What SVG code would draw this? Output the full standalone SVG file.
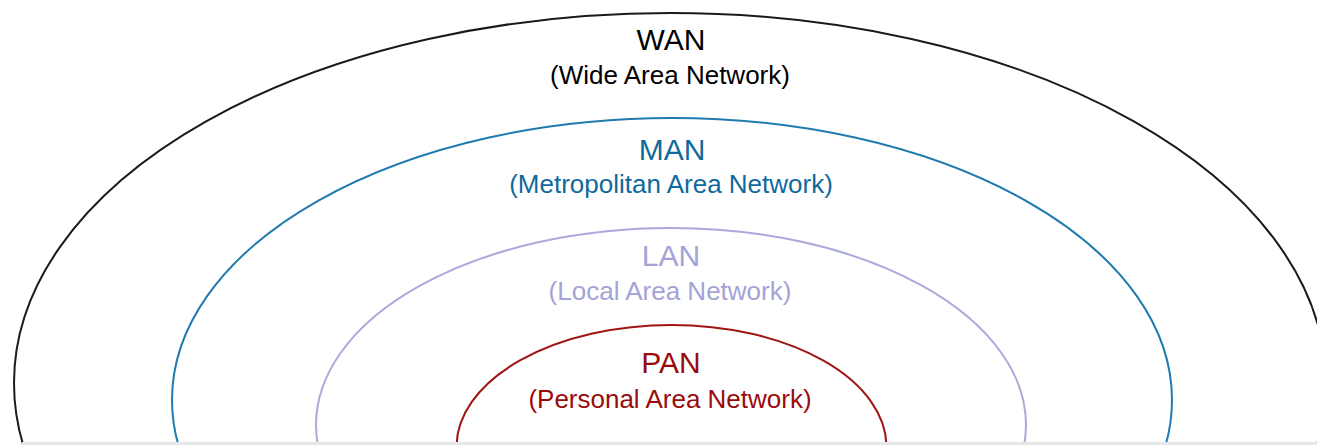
<svg xmlns="http://www.w3.org/2000/svg" width="1317" height="445" viewBox="0 0 1317 445">
  <style>
    .ring { fill: none; stroke-width: 2; }
    .title { font-family: "Liberation Sans", Arial, sans-serif; font-size: 30px; text-anchor: middle; }
    .sub { font-family: "Liberation Sans", Arial, sans-serif; font-size: 26px; text-anchor: middle; }
    #wan .ring { stroke: #1a1a1a; }
    #wan text { fill: #000000; }
    #man .ring { stroke: #1f7aae; }
    #man text { fill: #10699c; }
    #lan .ring { stroke: #aaaadc; }
    #lan text { fill: #a3a3d6; }
    #pan .ring { stroke: #a01414; }
    #pan text { fill: #9a0b0b; }
  </style>
  <rect width="1317" height="445" fill="#ffffff"/>

  <!-- nested network scopes, widest first -->
  <g id="wan">
    <ellipse class="ring" cx="670" cy="383" rx="656" ry="370"/>
    <text class="title" x="671" y="50">WAN</text>
    <text class="sub" x="670" y="84">(Wide Area Network)</text>
  </g>
  <g id="man">
    <ellipse class="ring" cx="672" cy="400" rx="500" ry="282"/>
    <text class="title" x="672" y="160">MAN</text>
    <text class="sub" x="671" y="193">(Metropolitan Area Network)</text>
  </g>
  <g id="lan">
    <ellipse class="ring" cx="671" cy="425" rx="355" ry="197"/>
    <text class="title" x="671" y="266">LAN</text>
    <text class="sub" x="670" y="300">(Local Area Network)</text>
  </g>
  <g id="pan">
    <ellipse class="ring" cx="671.5" cy="447" rx="215" ry="122"/>
    <text class="title" x="671" y="373">PAN</text>
    <text class="sub" x="670" y="408">(Personal Area Network)</text>
  </g>

  <!-- base edge -->
  <rect x="22" y="442" width="1295" height="3" fill="#e6e6e6"/>
</svg>
